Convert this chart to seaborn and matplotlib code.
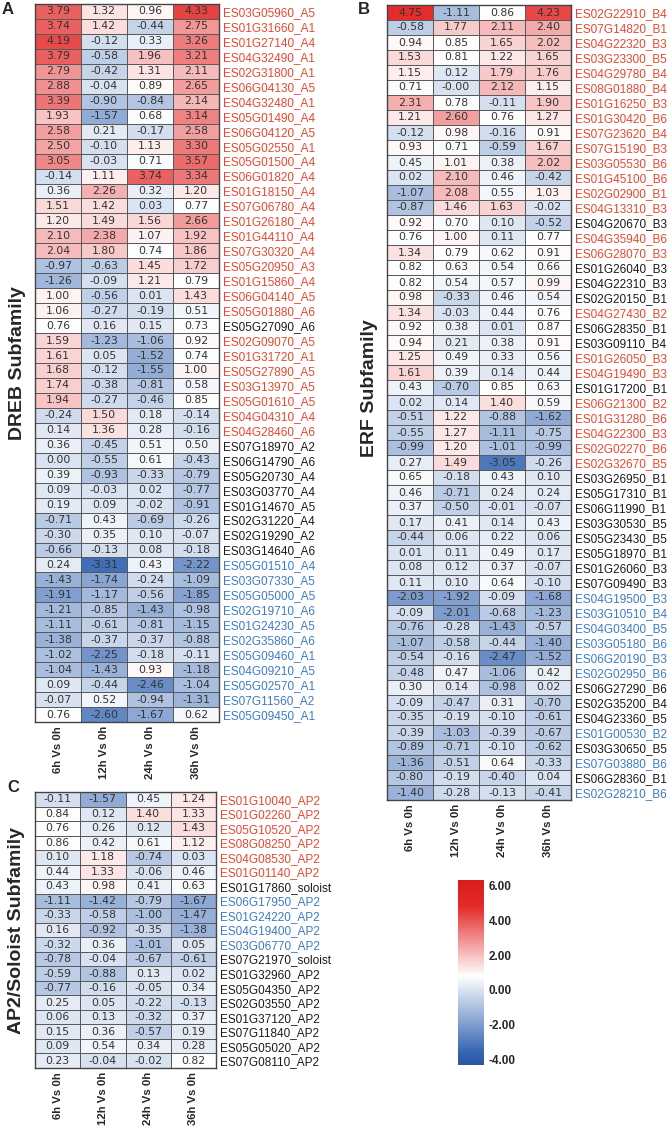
import matplotlib
matplotlib.use("Agg")
import matplotlib.pyplot as plt
import numpy as np
import pandas as pd
import seaborn as sns
from matplotlib.colors import LinearSegmentedColormap

sns.set_theme(style="white")
plt.rcParams['font.family'] = ['DejaVu Sans']

# columns shared by all three panels
time_labels = ['6h Vs 0h', '12h Vs 0h', '24h Vs 0h', '36h Vs 0h']

# A - DREB subfamily
dreb_genes = ['ES03G05960_A5', 'ES01G31660_A1', 'ES01G27140_A4', 'ES04G32490_A1',
              'ES02G31800_A1', 'ES06G04130_A5', 'ES04G32480_A1', 'ES05G01490_A4',
              'ES06G04120_A5', 'ES05G02550_A1', 'ES05G01500_A4', 'ES06G01820_A4',
              'ES01G18150_A4', 'ES07G06780_A4', 'ES01G26180_A4', 'ES01G44110_A4',
              'ES07G30320_A4', 'ES05G20950_A3', 'ES01G15860_A4', 'ES06G04140_A5',
              'ES05G01880_A6', 'ES05G27090_A6', 'ES02G09070_A5', 'ES01G31720_A1',
              'ES05G27890_A5', 'ES03G13970_A5', 'ES05G01610_A5', 'ES04G04310_A4',
              'ES04G28460_A6', 'ES07G18970_A2', 'ES06G14790_A6', 'ES05G20730_A4',
              'ES03G03770_A4', 'ES01G14670_A5', 'ES02G31220_A4', 'ES02G19290_A2',
              'ES03G14640_A6', 'ES05G01510_A4', 'ES03G07330_A5', 'ES05G05000_A5',
              'ES02G19710_A6', 'ES01G24230_A5', 'ES02G35860_A6', 'ES05G09460_A1',
              'ES04G09210_A5', 'ES05G02570_A1', 'ES07G11560_A2', 'ES05G09450_A1']
dreb_vals = [
    [3.79, 1.32, 0.96, 4.33], [3.74, 1.42, -0.44, 2.75], [4.19, -0.12, 0.33, 3.26],
    [3.79, -0.58, 1.96, 3.21], [2.79, -0.42, 1.31, 2.11], [2.88, -0.04, 0.89, 2.65],
    [3.39, -0.90, -0.84, 2.14], [1.93, -1.57, 0.68, 3.14], [2.58, 0.21, -0.17, 2.58],
    [2.50, -0.10, 1.13, 3.30], [3.05, -0.03, 0.71, 3.57], [-0.14, 1.11, 3.74, 3.34],
    [0.36, 2.26, 0.32, 1.20], [1.51, 1.42, 0.03, 0.77], [1.20, 1.49, 1.56, 2.66],
    [2.10, 2.38, 1.07, 1.92], [2.04, 1.80, 0.74, 1.86], [-0.97, -0.63, 1.45, 1.72],
    [-1.26, -0.09, 1.21, 0.79], [1.00, -0.56, 0.01, 1.43], [1.06, -0.27, -0.19, 0.51],
    [0.76, 0.16, 0.15, 0.73], [1.59, -1.23, -1.06, 0.92], [1.61, 0.05, -1.52, 0.74],
    [1.68, -0.12, -1.55, 1.00], [1.74, -0.38, -0.81, 0.58], [1.94, -0.27, -0.46, 0.85],
    [-0.24, 1.50, 0.18, -0.14], [0.14, 1.36, 0.28, -0.16], [0.36, -0.45, 0.51, 0.50],
    [0.00, -0.55, 0.61, -0.43], [0.39, -0.93, -0.33, -0.79], [0.09, -0.03, 0.02, -0.77],
    [0.19, 0.09, -0.02, -0.91], [-0.71, 0.43, -0.69, -0.26], [-0.30, 0.35, 0.10, -0.07],
    [-0.66, -0.13, 0.08, -0.18], [0.24, -3.31, 0.43, -2.22], [-1.43, -1.74, -0.24, -1.09],
    [-1.91, -1.17, -0.56, -1.85], [-1.21, -0.85, -1.43, -0.98], [-1.11, -0.61, -0.81, -1.15],
    [-1.38, -0.37, -0.37, -0.88], [-1.02, -2.25, -0.18, -0.11], [-1.04, -1.43, 0.93, -1.18],
    [0.09, -0.44, -2.46, -1.04], [-0.07, 0.52, -0.94, -1.31], [0.76, -2.60, -1.67, 0.62]]
dreb_groups = 'r' * 21 + 'k' + 'r' * 7 + 'k' * 8 + 'b' * 11

# B - ERF subfamily
erf_genes = ['ES02G22910_B4', 'ES07G14820_B1', 'ES04G22320_B3', 'ES03G23300_B5',
             'ES04G29780_B4', 'ES08G01880_B4', 'ES01G16250_B3', 'ES01G30420_B6',
             'ES07G23620_B4', 'ES07G15190_B3', 'ES03G05530_B6', 'ES01G45100_B6',
             'ES02G02900_B1', 'ES04G13310_B3', 'ES04G20670_B3', 'ES04G35940_B6',
             'ES06G28070_B3', 'ES01G26040_B3', 'ES04G22310_B3', 'ES02G20150_B1',
             'ES04G27430_B2', 'ES06G28350_B1', 'ES03G09110_B4', 'ES01G26050_B3',
             'ES04G19490_B3', 'ES01G17200_B1', 'ES06G21300_B2', 'ES01G31280_B6',
             'ES04G22300_B3', 'ES02G02270_B6', 'ES02G32670_B5', 'ES03G26950_B1',
             'ES05G17310_B1', 'ES06G11990_B1', 'ES03G30530_B5', 'ES05G23430_B5',
             'ES05G18970_B1', 'ES01G26060_B3', 'ES07G09490_B3', 'ES04G19500_B3',
             'ES03G10510_B4', 'ES04G03400_B5', 'ES03G05180_B6', 'ES06G20190_B3',
             'ES02G02950_B6', 'ES06G27290_B6', 'ES02G35200_B4', 'ES04G23360_B5',
             'ES01G00530_B2', 'ES03G30650_B5', 'ES07G03880_B6', 'ES06G28360_B1',
             'ES02G28210_B6']
erf_vals = [
    [4.75, -1.11, 0.86, 4.23], [-0.58, 1.77, 2.11, 2.40], [0.94, 0.85, 1.65, 2.02],
    [1.53, 0.81, 1.22, 1.65], [1.15, 0.12, 1.79, 1.76], [0.71, -0.001, 2.12, 1.15],
    [2.31, 0.78, -0.11, 1.90], [1.21, 2.60, 0.76, 1.27], [-0.12, 0.98, -0.16, 0.91],
    [0.93, 0.71, -0.59, 1.67], [0.45, 1.01, 0.38, 2.02], [0.02, 2.10, 0.46, -0.42],
    [-1.07, 2.08, 0.55, 1.03], [-0.87, 1.46, 1.63, -0.02], [0.92, 0.70, 0.10, -0.52],
    [0.76, 1.00, 0.11, 0.77], [1.34, 0.79, 0.62, 0.91], [0.82, 0.63, 0.54, 0.66],
    [0.82, 0.54, 0.57, 0.99], [0.98, -0.33, 0.46, 0.54], [1.34, -0.03, 0.44, 0.76],
    [0.92, 0.38, 0.01, 0.87], [0.94, 0.21, 0.38, 0.91], [1.25, 0.49, 0.33, 0.56],
    [1.61, 0.39, 0.14, 0.44], [0.43, -0.70, 0.85, 0.63], [0.02, 0.14, 1.40, 0.59],
    [-0.51, 1.22, -0.88, -1.62], [-0.55, 1.27, -1.11, -0.75], [-0.99, 1.20, -1.01, -0.99],
    [0.27, 1.49, -3.05, -0.26], [0.65, -0.18, 0.43, 0.10], [0.46, -0.71, 0.24, 0.24],
    [0.37, -0.50, -0.01, -0.07], [0.17, 0.41, 0.14, 0.43], [-0.44, 0.06, 0.22, 0.06],
    [0.01, 0.11, 0.49, 0.17], [0.08, 0.12, 0.37, -0.07], [0.11, 0.10, 0.64, -0.10],
    [-2.03, -1.92, -0.09, -1.68], [-0.09, -2.01, -0.68, -1.23], [-0.76, -0.28, -1.43, -0.57],
    [-1.07, -0.58, -0.44, -1.40], [-0.54, -0.16, -2.47, -1.52], [-0.48, 0.47, -1.06, 0.42],
    [0.30, 0.14, -0.98, 0.02], [-0.09, -0.47, 0.31, -0.70], [-0.35, -0.19, -0.10, -0.61],
    [-0.39, -1.03, -0.39, -0.67], [-0.89, -0.71, -0.10, -0.62], [-1.36, -0.51, 0.64, -0.33],
    [-0.80, -0.19, -0.40, 0.04], [-1.40, -0.28, -0.13, -0.41]]
erf_groups = ('r' * 14 + 'k' + 'rr' + 'kkk' + 'r' + 'kk' + 'rr' + 'k' + 'r' * 5
              + 'k' * 8 + 'b' * 6 + 'kkk' + 'bkbkb')

# C - AP2/Soloist subfamily
ap2_genes = ['ES01G10040_AP2', 'ES01G02260_AP2', 'ES05G10520_AP2', 'ES08G08250_AP2',
             'ES04G08530_AP2', 'ES01G01140_AP2', 'ES01G17860_soloist', 'ES06G17950_AP2',
             'ES01G24220_AP2', 'ES04G19400_AP2', 'ES03G06770_AP2', 'ES07G21970_soloist',
             'ES01G32960_AP2', 'ES05G04350_AP2', 'ES02G03550_AP2', 'ES01G37120_AP2',
             'ES07G11840_AP2', 'ES05G05020_AP2', 'ES07G08110_AP2']
ap2_vals = [
    [-0.11, -1.57, 0.45, 1.24], [0.84, 0.12, 1.40, 1.33], [0.76, 0.26, 0.12, 1.43],
    [0.86, 0.42, 0.61, 1.12], [0.10, 1.18, -0.74, 0.03], [0.44, 1.33, -0.06, 0.46],
    [0.43, 0.98, 0.41, 0.63], [-1.11, -1.42, -0.79, -1.67], [-0.33, -0.58, -1.00, -1.47],
    [0.16, -0.92, -0.35, -1.38], [-0.32, 0.36, -1.01, 0.05], [-0.78, -0.04, -0.67, -0.61],
    [-0.59, -0.88, 0.13, 0.02], [-0.77, -0.16, -0.05, 0.34], [0.25, 0.05, -0.22, -0.13],
    [0.06, 0.13, -0.32, 0.37], [0.15, 0.36, -0.57, 0.19], [0.09, 0.54, 0.34, 0.28],
    [0.23, -0.04, -0.02, 0.82]]
ap2_groups = 'r' * 6 + 'k' + 'b' * 4 + 'k' * 8

label_colors = {'r': '#e8472f', 'b': '#3d7bc6', 'k': '#1a1a1a'}

vmin, vmax = -4.3, 6.3
nodes = [(-4.3, '#2a56a3'), (-3.6, '#3465b3'), (0.8, '#ffffff'), (4.8, '#e42a2a'), (6.3, '#d81c1c')]
cmap = LinearSegmentedColormap.from_list(
    'expr', [((v - vmin) / (vmax - vmin), c) for v, c in nodes])

W, H = 671, 1135
fig = plt.figure(figsize=(W / 100, H / 100), dpi=100)


def box(x0, y0, x1, y1):
    # pixel box (top-left origin) -> figure fraction rect
    return [x0 / W, 1 - y1 / H, (x1 - x0) / W, (y1 - y0) / H]


def draw_panel(ax, genes, vals, groups, cbar_ax=None):
    df = pd.DataFrame(vals, index=genes, columns=time_labels)
    sns.heatmap(df, ax=ax, cmap=cmap, vmin=vmin, vmax=vmax,
                annot=True, fmt='.2f',
                annot_kws={'size': 7.8, 'color': '#333333'},
                linewidths=0.6, linecolor='#5a5a5a',
                cbar=cbar_ax is not None, cbar_ax=cbar_ax,
                cbar_kws={'ticks': [6, 4, 2, 0, -2, -4], 'format': '%.2f'})
    ax.yaxis.tick_right()
    ax.set_yticks(np.arange(len(genes)) + 0.5)
    ax.set_yticklabels(genes, rotation=0, fontsize=8.5, family='Liberation Sans')
    for lab, g in zip(ax.get_yticklabels(), groups):
        lab.set_color(label_colors[g])
    ax.set_xticklabels(time_labels, rotation=90, fontsize=8.2,
                       fontweight='bold', family='Liberation Sans')
    ax.tick_params(axis='both', length=0, pad=3)
    ax.set_xlabel('')
    ax.set_ylabel('')
    for s in ax.spines.values():
        s.set_visible(True)
        s.set_color('#444444')
        s.set_linewidth(1.0)


ax_a = fig.add_axes(box(35, 4, 219, 722))
ax_b = fig.add_axes(box(387, 5, 571, 800))
ax_c = fig.add_axes(box(35, 792, 216, 1068))
cax = fig.add_axes(box(458, 880, 484, 1065))

draw_panel(ax_a, dreb_genes, dreb_vals, dreb_groups)
draw_panel(ax_b, erf_genes, erf_vals, erf_groups, cbar_ax=cax)
draw_panel(ax_c, ap2_genes, ap2_vals, ap2_groups)

cax.tick_params(length=0, labelsize=8.5)
for t in cax.get_yticklabels():
    t.set_fontweight('bold')
    t.set_family('Liberation Sans')
cax.set_frame_on(True)

# panel letters and family titles
fig.text(2 / W, 1 - 10 / H, 'A', fontsize=12, fontweight='bold', family='Liberation Sans', va='center')
fig.text(358 / W, 1 - 10 / H, 'B', fontsize=12, fontweight='bold', family='Liberation Sans', va='center')
fig.text(7 / W, 1 - 787 / H, 'C', fontsize=12, fontweight='bold', family='Liberation Sans', va='center')

fig.text(18 / W, 1 - 363 / H, 'DREB Subfamily', rotation=90, fontsize=14, fontweight='bold',
         family='Liberation Sans', ha='center', va='center')
fig.text(370 / W, 1 - 388 / H, 'ERF Subfamily', rotation=90, fontsize=14, fontweight='bold',
         family='Liberation Sans', ha='center', va='center')
fig.text(17 / W, 1 - 931 / H, 'AP2/Soloist Subfamily', rotation=90, fontsize=14, fontweight='bold',
         family='Liberation Sans', ha='center', va='center')

fig.savefig('out.png', dpi=100)
